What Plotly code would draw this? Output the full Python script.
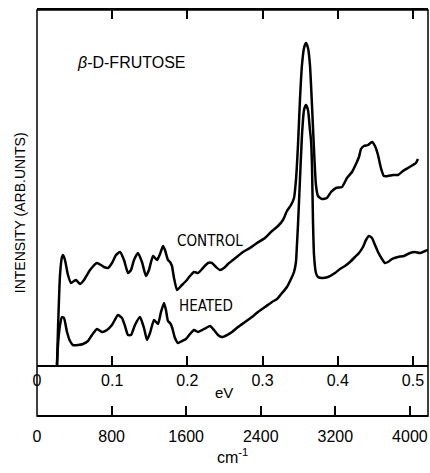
import plotly.graph_objects as go

# ---- data (photon energy in eV, intensity in arbitrary units) ----
control_ev = [0.0266, 0.0279, 0.0306, 0.0332, 0.0346, 0.0372, 0.0412, 0.0452, 0.0492, 0.0519,
              0.0545, 0.0572, 0.0625, 0.0705, 0.0798, 0.0851, 0.0891, 0.0944, 0.0997, 0.1051,
              0.1104, 0.1157, 0.1210, 0.1250, 0.1290, 0.1343, 0.1396, 0.1449, 0.1489, 0.1543,
              0.1596, 0.1636, 0.1676, 0.1702, 0.1742, 0.1769, 0.1795, 0.1822, 0.1862, 0.1915,
              0.1981, 0.2035, 0.2088, 0.2141, 0.2207, 0.2274, 0.2327, 0.2380, 0.2434, 0.2487,
              0.2540, 0.2606, 0.2673, 0.2739, 0.2832, 0.2926, 0.3032, 0.3125, 0.3205, 0.3271,
              0.3324, 0.3378, 0.3418, 0.3444, 0.3471, 0.3497, 0.3524, 0.3551, 0.3577, 0.3604,
              0.3630, 0.3657, 0.3684, 0.3710, 0.3737, 0.3790, 0.3856, 0.3910, 0.3976, 0.4056,
              0.4122, 0.4189, 0.4242, 0.4282, 0.4309, 0.4348, 0.4402, 0.4455, 0.4495, 0.4535,
              0.4574, 0.4614, 0.4668, 0.4734, 0.4801, 0.4867, 0.4934, 0.5000, 0.5040, 0.5066]
control_int = [0, 35, 90, 108, 110, 105, 90, 82, 84, 85,
               83, 81, 85, 95, 102, 100, 98, 97, 102, 110,
               113, 105, 92, 95, 105, 112, 103, 89, 95, 109,
               105, 111, 119, 115, 105, 103, 99, 87, 75, 79,
               84, 89, 93, 92, 97, 102, 102, 98, 95, 97,
               101, 105, 109, 113, 117, 122, 127, 134, 139, 145,
               154, 160, 167, 185, 220, 265, 300, 317, 322, 317,
               300, 260, 215, 180, 169, 166, 167, 173, 177, 178,
               187, 193, 201, 208, 216, 219, 220, 223, 219, 210,
               197, 189, 189, 190, 190, 194, 197, 200, 202, 206]

heated_ev = [0.0266, 0.0279, 0.0306, 0.0332, 0.0359, 0.0399, 0.0439, 0.0479, 0.0545, 0.0612,
             0.0678, 0.0731, 0.0798, 0.0864, 0.0931, 0.0997, 0.1077, 0.1130, 0.1170, 0.1210,
             0.1250, 0.1303, 0.1370, 0.1423, 0.1463, 0.1503, 0.1556, 0.1609, 0.1649, 0.1689,
             0.1715, 0.1742, 0.1769, 0.1795, 0.1835, 0.1875, 0.1928, 0.1981, 0.2035, 0.2088,
             0.2141, 0.2194, 0.2247, 0.2301, 0.2354, 0.2407, 0.2460, 0.2527, 0.2593, 0.2673,
             0.2766, 0.2859, 0.2939, 0.3032, 0.3125, 0.3191, 0.3258, 0.3324, 0.3378, 0.3418,
             0.3444, 0.3457, 0.3471, 0.3497, 0.3524, 0.3551, 0.3577, 0.3604, 0.3630, 0.3644,
             0.3657, 0.3670, 0.3684, 0.3710, 0.3737, 0.3790, 0.3870, 0.3963, 0.4029, 0.4096,
             0.4162, 0.4229, 0.4282, 0.4335, 0.4375, 0.4415, 0.4455, 0.4495, 0.4535, 0.4588,
             0.4628, 0.4668, 0.4721, 0.4801, 0.4880, 0.4960, 0.5027, 0.5093, 0.5160, 0.5199]
heated_int = [0, 20, 40, 48, 47, 33, 24, 20, 20, 21,
              24, 30, 36, 33, 35, 40, 50, 47, 39, 30,
              30, 40, 48, 37, 25, 32, 45, 41, 53, 62,
              55, 44, 42, 38, 27, 22, 24, 26, 31, 35,
              33, 35, 37, 39, 35, 30, 28, 30, 33, 38,
              43, 48, 53, 58, 63, 66, 72, 78, 86, 93,
              103, 120, 140, 185, 230, 255, 260, 255, 235, 225,
              200, 145, 110, 92, 88, 87, 88, 92, 96, 99,
              103, 108, 112, 118, 125, 129, 127, 120, 113, 106,
              102, 103, 106, 108, 109, 112, 113, 112, 114, 115]

ev_ticks = [0, 0.1, 0.2, 0.3, 0.4, 0.5]
ev_labels = ["0", "0.1", "0.2", "0.3", "0.4", "0.5"]
wn_ticks = [0, 800, 1600, 2400, 3200, 4000]
wn_labels = ["0", "800", "1600", "2400", "3200", "4000"]
EV_MAX = 0.52
EV_TO_WN = 8065.54

FONT = "Liberation Sans, Arial, sans-serif"
NARROW = "Liberation Sans Narrow, Arial Narrow, DejaVu Sans Condensed, Liberation Sans, sans-serif"

fig = go.Figure()
line = dict(color="black", width=2.5, shape="spline", smoothing=0.5)
fig.add_trace(go.Scatter(x=control_ev, y=control_int, mode="lines", line=line,
                         name="CONTROL", hoverinfo="skip"))
fig.add_trace(go.Scatter(x=heated_ev, y=heated_int, mode="lines", line=line,
                         name="HEATED", hoverinfo="skip"))
# carrier for the wavenumber axis
fig.add_trace(go.Scatter(x=[0, EV_MAX * EV_TO_WN], y=[None, None], xaxis="x2", yaxis="y",
                         mode="lines", showlegend=False, hoverinfo="skip"))

fig.update_layout(
    width=430, height=473,
    margin=dict(l=37, r=2, t=10, b=57),
    paper_bgcolor="white", plot_bgcolor="white",
    showlegend=False,
    font=dict(family=FONT, color="black"),
    xaxis=dict(range=[0, EV_MAX], tickvals=ev_ticks, ticktext=ev_labels,
               ticks="inside", ticklen=9, tickwidth=1.5, tickcolor="black",
               showline=True, linecolor="black", linewidth=1.5, mirror="ticks",
               showgrid=False, zeroline=False, anchor="y",
               tickfont=dict(size=16, family=FONT)),
    xaxis2=dict(range=[0, EV_MAX * EV_TO_WN], tickvals=wn_ticks, ticktext=wn_labels,
                overlaying="x", anchor="free", position=0, side="bottom",
                ticks="inside", ticklen=9, tickwidth=1.5, tickcolor="black",
                showline=True, linecolor="black", linewidth=1.5,
                showgrid=False, zeroline=False, ticklabelstandoff=6,
                tickfont=dict(size=16, family=FONT)),
    yaxis=dict(range=[0, 355], domain=[0.1256, 1], showticklabels=False, ticks="",
               showgrid=False, zeroline=False, showline=False),
    shapes=[dict(type="rect", xref="paper", yref="paper", x0=0, x1=1, y0=0, y1=1,
                 line=dict(color="black", width=1.5), layer="above")],
    annotations=[
        dict(text="<i>β</i>-D-FRUTOSE", x=0.0505, y=303, xref="x", yref="y",
             xanchor="left", yanchor="middle", showarrow=False,
             font=dict(size=16, family=FONT)),
        dict(text="CONTROL", x=0.1835, y=124, xref="x", yref="y",
             xanchor="left", yanchor="middle", showarrow=False,
             font=dict(size=15, family=NARROW)),
        dict(text="HEATED", x=0.186, y=59, xref="x", yref="y",
             xanchor="left", yanchor="middle", showarrow=False,
             font=dict(size=15, family=NARROW)),
        dict(text="INTENSITY (ARB.UNITS)", x=-0.0435, y=0.502, xref="paper", yref="paper",
             textangle=-90, xanchor="center", yanchor="middle", showarrow=False,
             font=dict(size=14, family=FONT)),
        dict(text="eV", x=0.478, y=0.0567, xref="paper", yref="paper",
             xanchor="center", yanchor="middle", showarrow=False,
             font=dict(size=15, family=FONT)),
        dict(text="cm<sup>-1</sup>", x=0.50, y=-0.098, xref="paper", yref="paper",
             xanchor="center", yanchor="middle", showarrow=False,
             font=dict(size=16, family=FONT)),
    ],
)

fig.write_html("out.html")
